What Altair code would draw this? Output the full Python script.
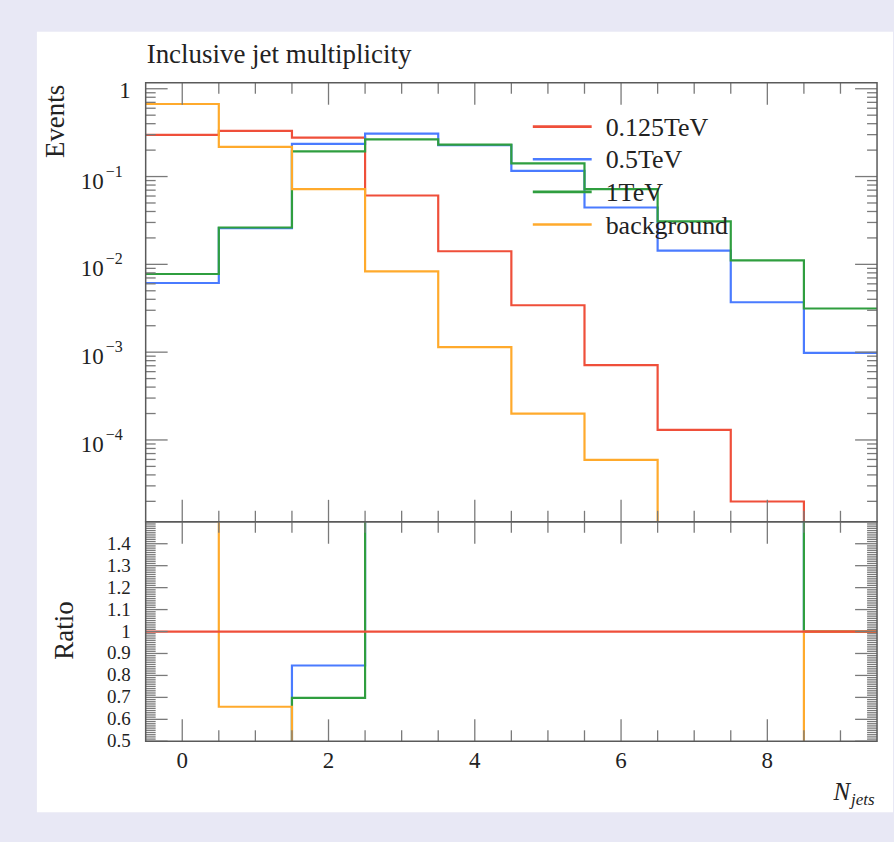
import altair as alt
import pandas as pd

# ---------------- data ----------------
bin_edges = [-0.5, 0.5, 1.5, 2.5, 3.5, 4.5, 5.5, 6.5, 7.5, 8.5, 9.5]
series_names = ["0.125TeV", "0.5TeV", "1TeV", "background"]
events_0125 = [0.298, 0.331, 0.278, 0.0608, 0.0141, 0.00342, 0.000711, 0.000130, 0.0000199, 0.0]
events_05 = [0.00613, 0.0258, 0.235, 0.308, 0.228, 0.116, 0.0444, 0.0143, 0.0037, 0.00098]
events_1 = [0.00776, 0.0263, 0.194, 0.265, 0.231, 0.1416, 0.0718, 0.0308, 0.0111, 0.00314]
events_bg = [0.670, 0.2176, 0.0718, 0.00832, 0.00114, 0.000199, 0.0000593, 0.0, 0.0, 0.0]
series_colors = ["#ef4f3a", "#4a7bff", "#2f9e3f", "#ffaa2c"]

x_major_ticks = [0, 2, 4, 6, 8]
x_tick_labels = ["0", "2", "4", "6", "8"]
y_power_ticks = [0.1, 0.01, 0.001, 0.0001]
y_power_exponents = ["\u22121", "\u22122", "\u22123", "\u22124"]
ratio_ticks = [0.5, 0.6, 0.7, 0.8, 0.9, 1.0, 1.1, 1.2, 1.3, 1.4]
ratio_labels = ["0.5", "0.6", "0.7", "0.8", "0.9", "1", "1.1", "1.2", "1.3", "1.4"]

# ---------------- layout / style ----------------
W, H, H2 = 733, 440, 220
FONT = "Liberation Serif"
FRAME = "#5a5a5a"
TICK = "#7a7a7a"
TXT = "#222222"
XD = [-0.5, 9.5]
YD = [1.17e-5, 1.17]
RD = [0.5, 1.5]

xs = alt.Scale(domain=XD, nice=False, zero=False)
ys_main = alt.Scale(type="log", domain=YD, nice=False)
ys_ratio = alt.Scale(domain=RD, nice=False, zero=False)

one = pd.DataFrame({"a": [1]})

y_major_main = [1.0] + y_power_ticks
y_minor_main = [k * 10.0 ** n for n in range(-5, 1) for k in range(2, 10)]
y_minor_main = [v for v in y_minor_main if YD[0] < v < YD[1]]
x_minor = [i / 2 for i in range(1, 19) if i % 4 != 0]
ratio_minor = [round(0.5 + 0.01 * i, 2) for i in range(1, 100) if i % 10 != 0]


def step_df(values, floor):
    ys_ = [v if v > 0 else floor for v in values]
    ys_ = ys_ + [ys_[-1]]
    return pd.DataFrame({"x": bin_edges, "y": ys_})


def ratio_vals(values):
    out = []
    for v, r in zip(values, events_0125):
        q = v / r if r > 0 else 1.0
        out.append(min(max(q, 0.4), 1.6))
    return out


def line_layer(df, ysc, color):
    return alt.Chart(df).mark_line(
        interpolate="step-after", clip=True, color=color, strokeWidth=2.2
    ).encode(
        x=alt.X("x:Q", scale=xs, axis=None),
        y=alt.Y("y:Q", scale=ysc, axis=None),
    )


def ytick_layer(vals, ysc, length, side):
    d = pd.DataFrame({"v": vals})
    x0, x1 = (0, length) if side == "left" else (W - length, W)
    return alt.Chart(d).mark_rule(color=TICK, strokeWidth=1.3).encode(
        y=alt.Y("v:Q", scale=ysc, axis=None),
        x=alt.value(x0),
        x2=alt.value(x1),
    )


def xtick_layer(vals, length, side, h):
    d = pd.DataFrame({"v": vals})
    y0, y1 = (0, length) if side == "top" else (h - length, h)
    return alt.Chart(d).mark_rule(color=TICK, strokeWidth=1.3).encode(
        x=alt.X("v:Q", scale=xs, axis=None),
        y=alt.value(y0),
        y2=alt.value(y1),
    )


def tick_set(ysc, ymaj, ymin, h):
    return [
        ytick_layer(ymaj, ysc, 22, "left"),
        ytick_layer(ymin, ysc, 10, "left"),
        ytick_layer(ymaj, ysc, 22, "right"),
        ytick_layer(ymin, ysc, 10, "right"),
        xtick_layer(x_major_ticks, 22, "top", h),
        xtick_layer(x_minor, 11, "top", h),
        xtick_layer(x_major_ticks, 22, "bottom", h),
        xtick_layer(x_minor, 11, "bottom", h),
    ]


def frame(h):
    return alt.Chart(one).mark_rect(filled=False, color=FRAME, strokeWidth=1.5).encode(
        x=alt.value(0), x2=alt.value(W), y=alt.value(0), y2=alt.value(h)
    )


# ---------------- main panel ----------------
main_series = [events_0125, events_05, events_1, events_bg]

white = alt.Chart(one).mark_rect(color="white").encode(
    x=alt.value(-109), x2=alt.value(W + 16), y=alt.value(-51), y2=alt.value(731)
)

main_layers = [white]
for vals, col in zip(main_series, series_colors):
    main_layers.append(line_layer(step_df(vals, 5e-6), ys_main, col))

main_layers += tick_set(ys_main, y_major_main, y_minor_main, H)

lab_one = pd.DataFrame({"v": [1.0], "t": ["1"]})
lab_pow = pd.DataFrame({"v": y_power_ticks, "e": y_power_exponents})
main_layers.append(
    alt.Chart(lab_one).mark_text(font=FONT, fontSize=23, align="right", baseline="middle", color=TXT, dy=2).encode(
        y=alt.Y("v:Q", scale=ys_main, axis=None), x=alt.value(-15), text="t:N"
    )
)
main_layers.append(
    alt.Chart(lab_pow).mark_text(font=FONT, fontSize=23, align="right", baseline="middle", color=TXT, dy=5, text="10").encode(
        y=alt.Y("v:Q", scale=ys_main, axis=None), x=alt.value(-42)
    )
)
main_layers.append(
    alt.Chart(lab_pow).mark_text(font=FONT, fontSize=16, align="left", baseline="middle", color=TXT, dy=-5).encode(
        y=alt.Y("v:Q", scale=ys_main, axis=None), x=alt.value(-40), text="e:N"
    )
)

# legend (drawn manually so the line samples are long, as in the reference)
for i, (name, col) in enumerate(zip(series_names, series_colors)):
    yy = 44 + 32.7 * i
    main_layers.append(
        alt.Chart(one).mark_rule(color=col, strokeWidth=2.6).encode(
            x=alt.value(388), x2=alt.value(447), y=alt.value(yy)
        )
    )
    main_layers.append(
        alt.Chart(one).mark_text(font=FONT, fontSize=26, align="left", baseline="middle", color=TXT, text=name).encode(
            x=alt.value(461), y=alt.value(yy + 1)
        )
    )

main_layers.append(
    alt.Chart(one).mark_text(font=FONT, fontSize=27, align="left", baseline="alphabetic", color=TXT,
                             text="Inclusive jet multiplicity").encode(x=alt.value(1), y=alt.value(-20))
)
main_layers.append(
    alt.Chart(one).mark_text(font=FONT, fontSize=27, align="right", baseline="alphabetic", angle=270, color=TXT,
                             text="Events").encode(x=alt.value(-82), y=alt.value(2))
)
main_layers.append(frame(H))

main = alt.layer(*main_layers).properties(width=W, height=H)

# ---------------- ratio panel ----------------
ratio_layers = []
order = [1, 2, 3, 0]
for idx in order:
    rv = ratio_vals(main_series[idx])
    ratio_layers.append(
        line_layer(pd.DataFrame({"x": bin_edges, "y": rv + [rv[-1]]}), ys_ratio, series_colors[idx])
    )

ratio_layers += tick_set(ys_ratio, ratio_ticks, ratio_minor, H2)

rlab = pd.DataFrame({"v": ratio_ticks, "t": ratio_labels})
ratio_layers.append(
    alt.Chart(rlab).mark_text(font=FONT, fontSize=19, align="right", baseline="middle", color=TXT).encode(
        y=alt.Y("v:Q", scale=ys_ratio, axis=None), x=alt.value(-15), text="t:N"
    )
)
xlab = pd.DataFrame({"v": x_major_ticks, "t": x_tick_labels})
ratio_layers.append(
    alt.Chart(xlab).mark_text(font=FONT, fontSize=23, align="center", baseline="alphabetic", color=TXT).encode(
        x=alt.X("v:Q", scale=xs, axis=None), y=alt.value(H2 + 27), text="t:N"
    )
)
ratio_layers.append(
    alt.Chart(one).mark_text(font=FONT, fontSize=27, align="center", baseline="alphabetic", angle=270, color=TXT,
                             text="Ratio").encode(x=alt.value(-73), y=alt.value(H2 / 2 - 1))
)
ratio_layers.append(
    alt.Chart(one).mark_text(font=FONT, fontSize=25, fontStyle="italic", align="right", baseline="alphabetic",
                             color=TXT, text="N").encode(x=alt.value(706), y=alt.value(H2 + 59))
)
ratio_layers.append(
    alt.Chart(one).mark_text(font=FONT, fontSize=17, fontStyle="italic", align="left", baseline="alphabetic",
                             color=TXT, text="jets").encode(x=alt.value(707), y=alt.value(H2 + 64))
)
ratio_layers.append(frame(H2))

ratio = alt.layer(*ratio_layers).properties(width=W, height=H2)

chart = (
    alt.vconcat(main, ratio, spacing=0, bounds="flush")
    .resolve_scale(x="independent", y="independent")
    .properties(padding={"left": 36, "top": 30, "right": 0, "bottom": 30})
    .configure(background="#e8e8f5")
    .configure_view(stroke="transparent")
)

chart.save("out.html", embed_options={"renderer": "svg", "actions": False})
